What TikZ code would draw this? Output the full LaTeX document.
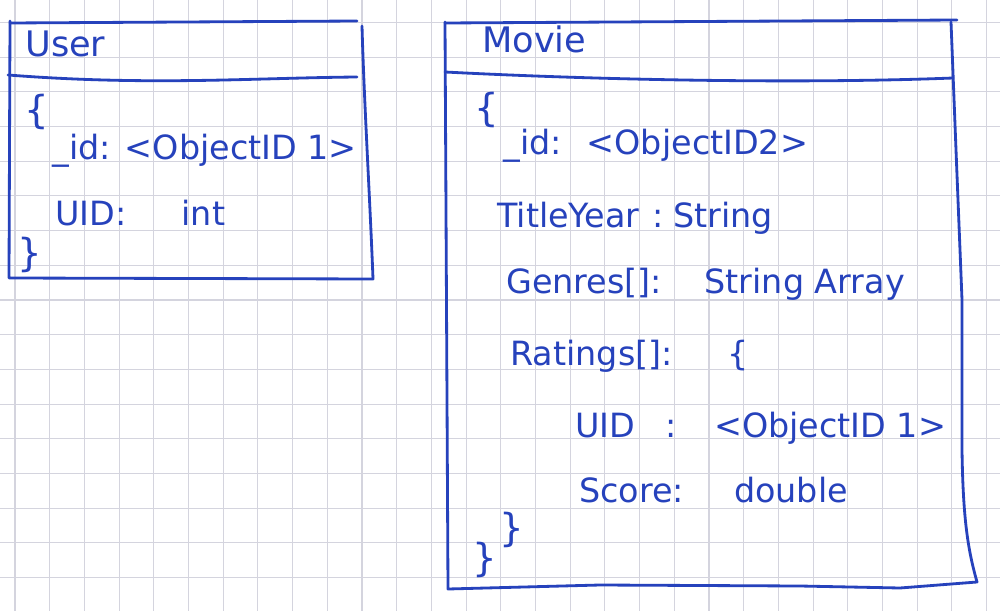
\documentclass[tikz,border=0pt]{standalone}
\usepackage{fontspec}
\setmainfont{DejaVu Sans}
\definecolor{ink}{RGB}{38,66,188}
\definecolor{paper}{RGB}{212,212,222}

\begin{document}
\begin{tikzpicture}[
  x=0.02cm, y=-0.02cm,
  gridline/.style={draw=paper, line width=0.6pt},
  inkline/.style={draw=ink, line width=1.6pt, line cap=round, line join=round},
  field/.style={anchor=base west, inner sep=0pt, text=ink, font=\fontsize{19}{22}\selectfont},
  title/.style={field, font=\fontsize{20}{24}\selectfont},
  brace/.style={inner sep=0pt, text=ink, font=\fontsize{22}{26}\selectfont},
]

% Paper (1 unit = 1 pixel of the sketch)
\fill[white] (0,0) rectangle (1000,611);
\useasboundingbox (0,0) rectangle (1000,611);

% Squared grid
\foreach \i in {0,...,28}
  \draw[gridline] ({15+34.7*\i},0) -- ({15+34.7*\i},611);
\foreach \j in {0,...,16}
  \draw[gridline] (0,{22.4+34.7*\j}) -- (1000,{22.4+34.7*\j});

% User box
\draw[inkline] (10,23) -- (357,21);
\draw[inkline] (10,21) -- (9,278) -- (373,279) .. controls (370,200) and (364,100) .. (362,26);
\draw[inkline] (8,75) .. controls (150,86) and (250,78) .. (357,77);

\node[title] (userTitle) at (25,57) {User};
\node[brace] (userOpen) at (37,112) {\{};
\node[field] (userId) at (52,160) {\_id: <ObjectID 1>};
\node[field] (userUid) at (55,225) {UID:\hspace{1.1cm}int};
\node[brace] (userClose) at (30,255) {\}};

% Movie box
\draw[inkline] (445,23) -- (957,20);
\draw[inkline] (445,22) -- (448,589) -- (600,585) -- (800,586) -- (900,588) -- (977,582)
  .. controls (968,550) and (963,520) .. (962,450) -- (962,300) -- (956,150) -- (951,22);
\draw[inkline] (445,72) .. controls (600,80) and (800,84) .. (953,78);

\node[title] (movieTitle) at (482,53) {Movie};
\node[brace] (movieOpen) at (487,110) {\{};
\node[field] (movieId) at (503,155) {\_id:\hspace{0.5cm}<ObjectID2>};
\node[field] (movieTitleYear) at (497,228) {TitleYear\hspace{0.25cm}:\hspace{0.2cm}String};
\node[field] (movieGenres) at (506,293) {Genres[]:\hspace{0.85cm}String Array};
\node[field] (movieRatings) at (510,365) {Ratings[]:\hspace{1.1cm}\{};
\node[field] (ratingUid) at (575,437) {UID\hspace{0.6cm}:\hspace{0.75cm}<ObjectID 1>};
\node[field] (ratingScore) at (579,502) {Score:\hspace{1cm}double};
\node[brace] (ratingClose) at (512,530) {\}};
\node[brace] (movieClose) at (485,560) {\}};

\end{tikzpicture}
\end{document}
